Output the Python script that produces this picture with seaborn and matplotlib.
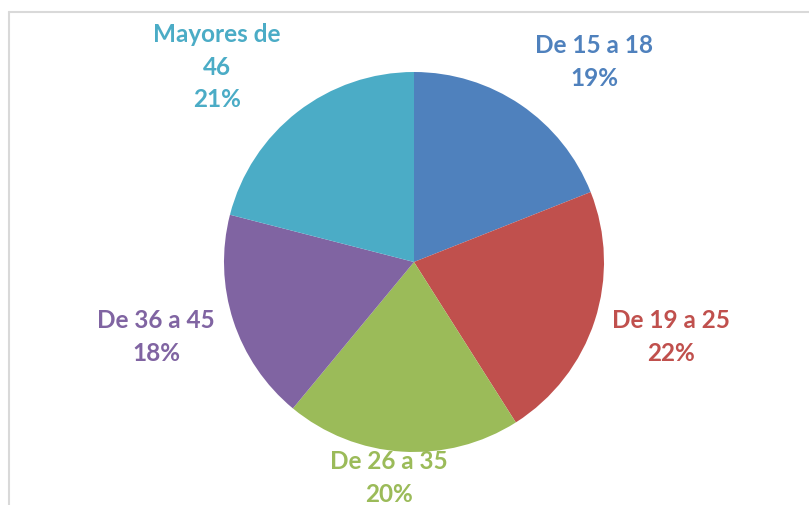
import matplotlib
matplotlib.use("Agg")
import matplotlib.pyplot as plt
import seaborn as sns

# data
categories = ["De 15 a 18", "De 19 a 25", "De 26 a 35", "De 36 a 45", "Mayores de\n46"]
shares = [19, 22, 20, 18, 21]
colors = ["#4F81BD", "#C0504D", "#9BBB59", "#8064A2", "#4BACC6"]

sns.set_theme(style="white")
plt.rcParams['font.family'] = ['Lato', 'DejaVu Sans']

W, H = 809, 505
cx, cy, r = 414, 262, 190  # pie centre and radius in pixels

fig = plt.figure(figsize=(W / 100, H / 100), dpi=100)
ax = fig.add_axes([0, 0, 1, 1])

wedges, _ = ax.pie(shares, colors=colors, startangle=90, counterclock=False,
                   radius=1, wedgeprops=dict(linewidth=0))

# label placement (in pie radii, relative to centre)
label_pos = [(0.947, 1.053), (1.353, -0.395), (-0.132, -1.137),
             (-1.358, -0.395), (-1.037, 1.026)]
for cat, val, col, (lx, ly) in zip(categories, shares, colors, label_pos):
    ax.text(lx, ly, f"{cat}\n{val}%", ha="center", va="center", color=col,
            fontsize=17.5, fontweight="bold", linespacing=1.5)

ax.set_xlim(-cx / r, (W - cx) / r)
ax.set_ylim(-(H - cy) / r, cy / r)
ax.set_aspect("auto")
ax.axis("off")

# chart frame (light grey, cut at right and bottom)
fx, fy = 8.5 / W, 1 - 11.5 / H
fig.add_artist(plt.Line2D([fx, fx], [0, fy], color="#D9D9D9", lw=1.5))
fig.add_artist(plt.Line2D([fx, 1], [fy, fy], color="#D9D9D9", lw=1.5))

fig.savefig("out.png", dpi=100)
